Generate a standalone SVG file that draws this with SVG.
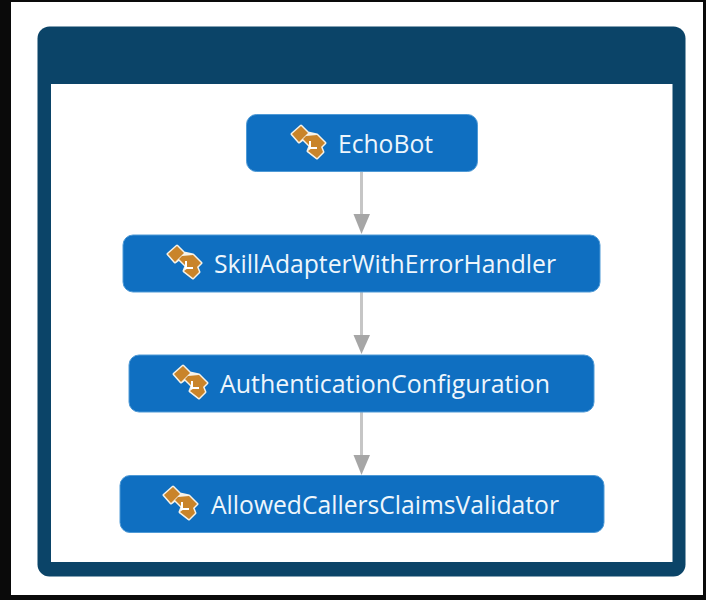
<svg xmlns="http://www.w3.org/2000/svg" width="706" height="600" viewBox="0 0 706 600">
<style>
.n{fill:#0f6fc1;stroke:#4f9ad6;stroke-width:1}
.t{font-family:"Open Sans","Noto Sans","Liberation Sans",sans-serif;font-size:25px;fill:#eef6fc;text-anchor:start}
.c{stroke:#c6c6c6;stroke-width:3;fill:none}
.a{fill:#a6a6a6}
.h{fill:#f6f2e8;stroke:#f6f2e8;stroke-width:3;stroke-linejoin:round}
.g{fill:#c9842a}
.l{fill:none;stroke:#fff;stroke-width:2}
</style>
<defs>
<g id="icon">
<path class="h" d="M-17,-9 L-8,-17 L-1,-10 L8,-8 L16,0 L12,4 L14,9 L8,15 L-1,8 L1,3 L-3,-1 L-6,-4 L-10,-1 Z"/>
<path class="g" d="M-17,-9 L-8,-17 L-1,-10 L-10,-1 Z"/>
<path class="g" d="M-3,-7 L8,-8 L16,0 L12,4 L14,9 L8,15 L-1,8 L3,5 L-6,-4 Z"/>
<path class="l" d="M1,-2 V5 H8"/>
</g>
</defs>
<rect x="0" y="0" width="706" height="600" fill="#0a0a0a"/>
<rect x="11" y="2" width="692" height="593" fill="#fff"/>
<g id="container">
<rect x="37.500" y="26.500" width="648" height="550" rx="12" fill="#0b4468"/>
<rect x="51" y="84" width="621.500" height="478" fill="#fff"/>
</g>
<g id="connectors">
<path class="c" d="M361.500,171V216"/><path class="a" d="M353.500,214H370L361.500,234Z"/>
<path class="c" d="M361.500,292V336"/><path class="a" d="M353.500,335H370L361.500,354Z"/>
<path class="c" d="M361.500,412V456"/><path class="a" d="M353.500,455H370L361.500,475Z"/>
</g>
<g id="node-echobot">
<rect class="n" x="246.500" y="114.500" width="231" height="57" rx="10"/>
<use href="#icon" x="309" y="143"/>
<text class="t" x="338" y="153" textLength="95" lengthAdjust="spacingAndGlyphs">EchoBot</text>
</g>
<g id="node-skilladapter">
<rect class="n" x="123" y="235" width="477" height="57" rx="10"/>
<use href="#icon" x="185" y="263"/>
<text class="t" x="214" y="273" textLength="342" lengthAdjust="spacingAndGlyphs">SkillAdapterWithErrorHandler</text>
</g>
<g id="node-authentication">
<rect class="n" x="129" y="355" width="465" height="57" rx="10"/>
<use href="#icon" x="191" y="383"/>
<text class="t" x="220" y="393" textLength="330" lengthAdjust="spacingAndGlyphs">AuthenticationConfiguration</text>
</g>
<g id="node-allowed">
<rect class="n" x="120" y="475.500" width="484" height="57" rx="10"/>
<use href="#icon" x="181" y="504"/>
<text class="t" x="211" y="514" textLength="348" lengthAdjust="spacingAndGlyphs">AllowedCallersClaimsValidator</text>
</g>
</svg>
